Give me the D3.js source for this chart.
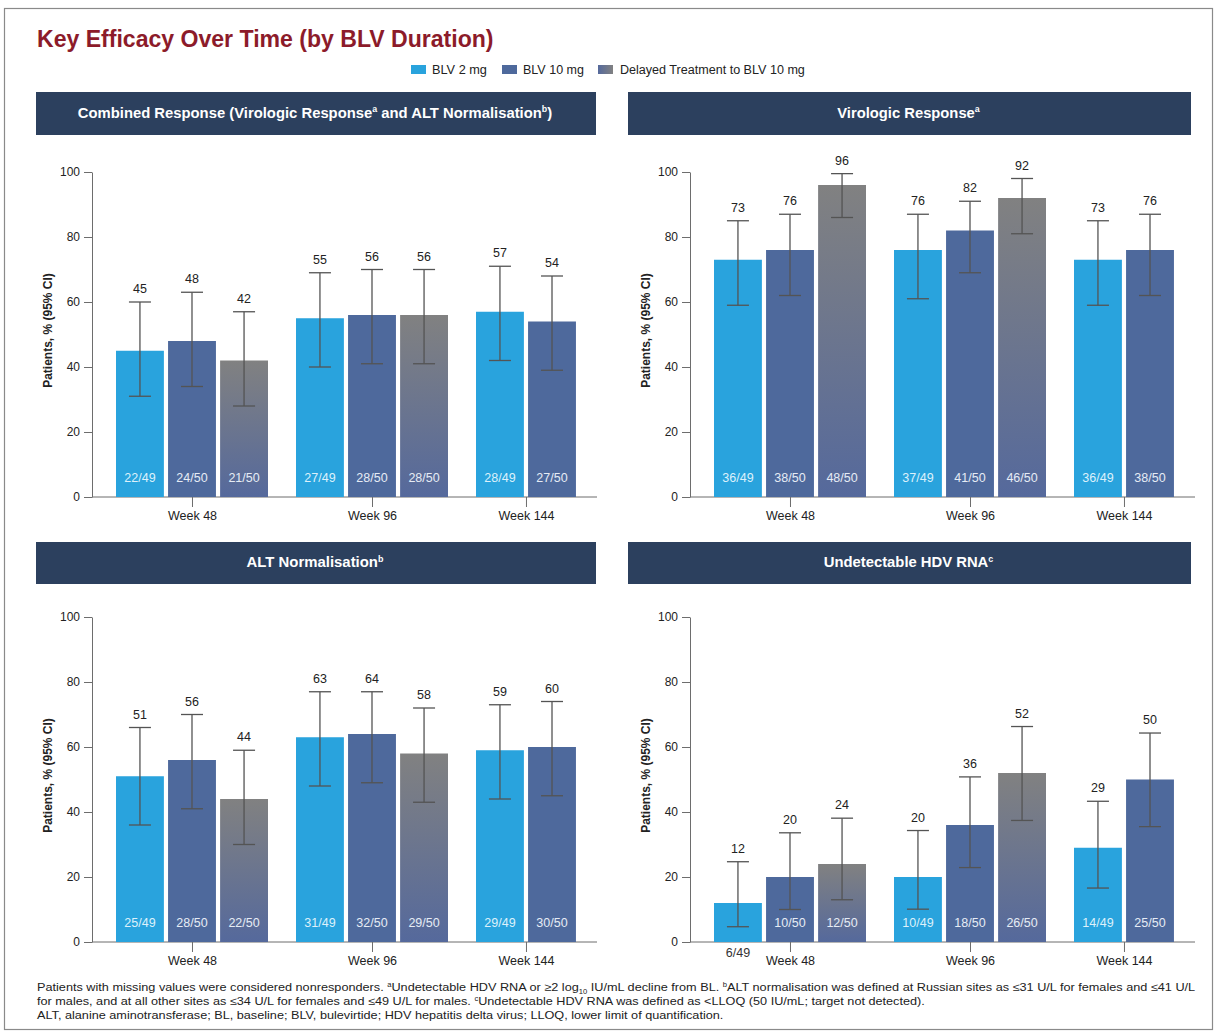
<!DOCTYPE html>
<html>
<head>
<meta charset="utf-8">
<script src="https://cdn.jsdelivr.net/npm/d3@7"></script>
<style>
  html, body { margin: 0; padding: 0; background: #ffffff; }
  svg { display: block; font-family: "Liberation Sans", Arial, sans-serif; }
</style>
</head>
<body>
<svg id="chart" width="1218" height="1035"></svg>
<script>
// ---- Data -------------------------------------------------------------
const weeks = ["Week 48", "Week 96", "Week 144"];
const seriesNames = ["BLV 2 mg", "BLV 10 mg", "Delayed Treatment to BLV 10 mg"];
const seriesColors = ["#29A3DD", "#4E699C", "url(#delayedFill)"];
const yTicks = [0, 20, 40, 60, 80, 100];

// Combined response (virologic response and ALT normalisation)
const combinedPct  = [[45, 48, 42], [55, 56, 56], [57, 54]];
const combinedLow  = [[31, 34, 28], [40, 41, 41], [42, 39]];
const combinedHigh = [[60, 63, 57], [69, 70, 70], [71, 68]];
const combinedN    = [["22/49", "24/50", "21/50"], ["27/49", "28/50", "28/50"], ["28/49", "27/50"]];

// Virologic response
const virologicPct  = [[73, 76, 96], [76, 82, 92], [73, 76]];
const virologicLow  = [[59, 62, 86], [61, 69, 81], [59, 62]];
const virologicHigh = [[85, 87, 99.5], [87, 91, 98], [85, 87]];
const virologicN    = [["36/49", "38/50", "48/50"], ["37/49", "41/50", "46/50"], ["36/49", "38/50"]];

// ALT normalisation
const altPct  = [[51, 56, 44], [63, 64, 58], [59, 60]];
const altLow  = [[36, 41, 30], [48, 49, 43], [44, 45]];
const altHigh = [[66, 70, 59], [77, 77, 72], [73, 74]];
const altN    = [["25/49", "28/50", "22/50"], ["31/49", "32/50", "29/50"], ["29/49", "30/50"]];

// Undetectable HDV RNA
const hdvPct  = [[12, 20, 24], [20, 36, 52], [29, 50]];
const hdvLow  = [[4.7, 10, 13], [10.1, 22.9, 37.4], [16.6, 35.5]];
const hdvHigh = [[24.7, 33.6, 38.1], [34.3, 50.8, 66.3], [43.3, 64.3]];
const hdvN    = [["6/49", "10/50", "12/50"], ["10/49", "18/50", "26/50"], ["14/49", "25/50"]];

// Panel headings: [text, kind] where kind 0 = normal, 1 = superscript, 2 = subscript
const combinedTitle  = [["Combined Response (Virologic Response", 0], ["a", 1], [" and ALT Normalisation", 0], ["b", 1], [")", 0]];
const virologicTitle = [["Virologic Response", 0], ["a", 1]];
const altTitle       = [["ALT Normalisation", 0], ["b", 1]];
const hdvTitle       = [["Undetectable HDV RNA", 0], ["c", 1]];

const footnoteLines = [
  [["Patients with missing values were considered nonresponders. ", 0], ["a", 1], ["Undetectable HDV RNA or \u22652 log", 0], ["10", 2], [" IU/mL decline from BL. ", 0], ["b", 1], ["ALT normalisation was defined at Russian sites as \u226431 U/L for females and \u226441 U/L", 0]],
  [["for males, and at all other sites as \u226434 U/L for females and \u226449 U/L for males. ", 0], ["c", 1], ["Undetectable HDV RNA was defined as <LLOQ (50 IU/mL; target not detected).", 0]],
  [["ALT, alanine aminotransferase; BL, baseline; BLV, bulevirtide; HDV hepatitis delta virus; LLOQ, lower limit of quantification.", 0]]
];

// ---- Setup ------------------------------------------------------------
const svg = d3.select("#chart");

const defs = svg.append("defs");
const grad = defs.append("linearGradient").attr("id", "delayedFill")
  .attr("x1", 0).attr("y1", 0).attr("x2", 0).attr("y2", 1);
grad.append("stop").attr("offset", "0%").attr("stop-color", "#818181");
grad.append("stop").attr("offset", "100%").attr("stop-color", "#55699C");
const gradH = defs.append("linearGradient").attr("id", "delayedSwatch")
  .attr("x1", 0).attr("y1", 0).attr("x2", 1).attr("y2", 0);
gradH.append("stop").attr("offset", "0%").attr("stop-color", "#55699C");
gradH.append("stop").attr("offset", "100%").attr("stop-color", "#818181");

// Squeeze a text element horizontally so it spans the given width
function fitWidth(sel, x, y, width) {
  const w = sel.node().getBBox().width;
  sel.attr("transform", `translate(${x},${y}) scale(${width / w},1)`);
}

// Append rich text pieces (normal / superscript / subscript) as tspans;
// the baseline shift of a raised or lowered piece is undone on the next piece
function richText(sel, pieces, size) {
  let pending = 0;
  pieces.forEach(([t, kind]) => {
    if (kind === 0) {
      sel.append("tspan").attr("font-size", size).attr("dy", pending).text(t);
      pending = 0;
    } else {
      const shift = kind === 1 ? -size * 0.38 : size * 0.25;
      sel.append("tspan").attr("font-size", size * 0.6).attr("dy", pending + shift).text(t);
      pending = -shift;
    }
  });
}

// Page frame
svg.append("rect").attr("x", 4.5).attr("y", 8.5).attr("width", 1208).attr("height", 1021)
  .attr("fill", "#ffffff").attr("stroke", "#8a8a8a").attr("stroke-width", 1.2);

// Title
const title = svg.append("text").attr("font-size", 23).attr("font-weight", "bold")
  .attr("fill", "#8C1B2A").text("Key Efficacy Over Time (by BLV Duration)");
fitWidth(title, 37, 47, 457);

// Legend
const legendItems = [
  { sx: 411, tx: 432, tw: 55 },
  { sx: 502, tx: 523, tw: 61 },
  { sx: 598, tx: 620, tw: 185 }
];
const swatchFills = ["#29A3DD", "#4E699C", "url(#delayedSwatch)"];
legendItems.forEach((it, i) => {
  svg.append("rect").attr("x", it.sx).attr("y", 65).attr("width", 15).attr("height", 9)
    .attr("fill", swatchFills[i]);
  const t = svg.append("text").attr("font-size", 12).attr("fill", "#222").text(seriesNames[i]);
  fitWidth(t, it.tx, 73.5, it.tw);
});

// ---- Panels -----------------------------------------------------------
const panels = [
  { title: combinedTitle, titleW: 475, pct: combinedPct, lo: combinedLow, hi: combinedHigh, n: combinedN,
    hx: 36, hy: 92, hw: 560, hh: 43, ax: 92, y0: 497, y100: 172 },
  { title: virologicTitle, titleW: 143, pct: virologicPct, lo: virologicLow, hi: virologicHigh, n: virologicN,
    hx: 628, hy: 92, hw: 563, hh: 43, ax: 690, y0: 497, y100: 172 },
  { title: altTitle, titleW: 137, pct: altPct, lo: altLow, hi: altHigh, n: altN,
    hx: 36, hy: 542, hw: 560, hh: 42, ax: 92, y0: 942, y100: 617 },
  { title: hdvTitle, titleW: 170, pct: hdvPct, lo: hdvLow, hi: hdvHigh, n: hdvN,
    hx: 628, hy: 542, hw: 563, hh: 42, ax: 690, y0: 942, y100: 617 }
];

panels.forEach(p => {
  const g = svg.append("g");

  // Heading bar
  g.append("rect").attr("x", p.hx).attr("y", p.hy).attr("width", p.hw).attr("height", p.hh)
    .attr("fill", "#2C405E");
  const ht = g.append("text").attr("font-size", 14).attr("font-weight", "bold")
    .attr("fill", "#ffffff").attr("text-anchor", "middle");
  richText(ht, p.title, 14);
  fitWidth(ht, p.hx + p.hw / 2 - 1, p.hy + p.hh / 2 + 4, p.titleW);

  const y = d3.scaleLinear().domain([0, 100]).range([p.y0, p.y100]);
  const x = d3.scaleBand().domain(weeks).range([p.ax + 24, p.ax + 536])
    .paddingInner(0.1556).paddingOuter(0);
  const xs = d3.scaleBand().domain(d3.range(3)).range([0, x.bandwidth()]).paddingInner(0.08);
  const bw = xs.bandwidth();

  // Group centre = middle of the bars present in that week
  const groupCentre = d3.scaleOrdinal().domain(weeks).range(weeks.map((w, i) => {
    const k = p.pct[i].length;
    return x(w) + (xs(0) + xs(k - 1) + bw) / 2;
  }));

  // Y axis
  const yAxis = d3.axisLeft(y).tickValues(yTicks).tickSize(8).tickSizeOuter(0).tickPadding(4);
  const yg = g.append("g").attr("transform", `translate(${p.ax},0)`).call(yAxis);
  yg.select(".domain").attr("stroke", "#6d6d6d");
  yg.selectAll(".tick line").attr("stroke", "#6d6d6d");
  yg.selectAll(".tick text").attr("font-size", 12).attr("fill", "#222")
    .attr("font-family", "'Liberation Sans', Arial, sans-serif");

  // X axis: baseline across the plot and ticks at group centres
  const xAxis = d3.axisBottom(groupCentre).tickSize(10).tickSizeOuter(0).tickPadding(4);
  const xg = g.append("g").attr("transform", `translate(0,${p.y0})`).call(xAxis);
  xg.select(".domain").remove();
  xg.selectAll(".tick line").attr("stroke", "#6d6d6d");
  xg.selectAll(".tick text").attr("font-size", 12.5).attr("fill", "#222")
    .attr("font-family", "'Liberation Sans', Arial, sans-serif");
  g.append("line").attr("x1", p.ax).attr("x2", p.ax + 505).attr("y1", p.y0).attr("y2", p.y0)
    .attr("stroke", "#6d6d6d");

  // Y axis title
  g.append("text").attr("transform", `translate(${p.ax - 40},${(p.y0 + p.y100) / 2 - 4}) rotate(-90)`)
    .attr("text-anchor", "middle").attr("font-size", 12).attr("font-weight", "bold").attr("fill", "#222")
    .text("Patients, % (95% CI)");

  // Flatten the week × series values
  const rows = [];
  weeks.forEach((w, i) => {
    p.pct[i].forEach((v, j) => {
      rows.push({ week: w, s: j, v, lo: p.lo[i][j], hi: p.hi[i][j], n: p.n[i][j] });
    });
  });

  const bx = d => x(d.week) + xs(d.s);

  // Bars
  g.append("g").selectAll("rect").data(rows).join("rect")
    .attr("x", bx).attr("width", bw)
    .attr("y", d => y(d.v)).attr("height", d => y(0) - y(d.v))
    .attr("fill", d => seriesColors[d.s]);

  // Confidence intervals
  const eg = g.append("g").attr("stroke", "#545454").attr("stroke-width", 1.3);
  eg.selectAll("line.stem").data(rows).join("line").attr("class", "stem")
    .attr("x1", d => bx(d) + bw / 2).attr("x2", d => bx(d) + bw / 2)
    .attr("y1", d => y(d.lo)).attr("y2", d => y(d.hi));
  eg.selectAll("line.capHi").data(rows).join("line").attr("class", "capHi")
    .attr("x1", d => bx(d) + bw / 2 - 11).attr("x2", d => bx(d) + bw / 2 + 11)
    .attr("y1", d => y(d.hi)).attr("y2", d => y(d.hi));
  eg.selectAll("line.capLo").data(rows).join("line").attr("class", "capLo")
    .attr("x1", d => bx(d) + bw / 2 - 11).attr("x2", d => bx(d) + bw / 2 + 11)
    .attr("y1", d => y(d.lo)).attr("y2", d => y(d.lo));

  // Percentage labels above the intervals
  g.append("g").selectAll("text").data(rows).join("text")
    .attr("x", d => bx(d) + bw / 2).attr("y", d => y(d.hi) - 9)
    .attr("text-anchor", "middle").attr("font-size", 12.5).attr("fill", "#222")
    .text(d => d.v);

  // Responder counts: inside the bar foot, or under the axis when the interval reaches down to it
  g.append("g").selectAll("text").data(rows).join("text")
    .attr("x", d => bx(d) + bw / 2)
    .attr("y", d => (y(0) - y(d.lo) < 20) ? y(0) + 15 : y(0) - 15)
    .attr("text-anchor", "middle").attr("font-size", 12.5)
    .attr("fill", d => (y(0) - y(d.lo) < 20) ? "#333" : (d.s === 0 ? "#DDF1FB" : "#E6ECF5"))
    .text(d => d.n);
});

// ---- Footnotes --------------------------------------------------------
const footWidths = [1160, 888, 687];
const footBase = [991, 1005, 1019];
footnoteLines.forEach((line, i) => {
  const t = svg.append("text").attr("font-size", 11).attr("fill", "#222");
  richText(t, line, 11);
  fitWidth(t, 37, footBase[i], footWidths[i]);
});
</script>
</body>
</html>
